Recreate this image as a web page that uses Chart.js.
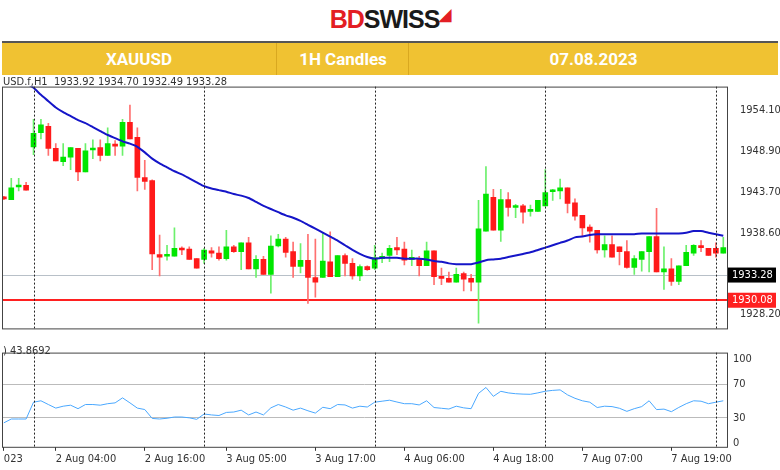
<!DOCTYPE html>
<html><head><meta charset="utf-8">
<script src="https://cdn.jsdelivr.net/npm/chart.js@4/dist/chart.umd.min.js"></script>
<style>
body{margin:0;width:780px;height:470px;background:#fff;position:relative;overflow:hidden;font-family:"Liberation Sans",Arial,sans-serif}
#logo{position:absolute;top:5px;left:0;width:780px;text-align:center;font-weight:bold;font-size:25px;letter-spacing:-1px}
#bar{position:absolute;left:2px;top:41px;width:776px;height:34px;background:#F0C232;border-top:2px solid #555;box-sizing:border-box}
.h{position:absolute;top:6px;color:#fff;font-weight:bold;font-size:17px;text-align:center;font-family:Roboto,"Liberation Sans",sans-serif}
.div{position:absolute;top:0;width:1px;height:32px;background:#d9a820}
#c1{position:absolute;left:0;top:75px}
#c2{position:absolute;left:0;top:340px}
.lab{position:absolute;font-size:11px;color:#333;font-family:"DejaVu Sans Condensed","Liberation Sans",sans-serif}
</style></head><body>
<div id="logo"><span style="color:#E31E24">BD</span><span style="color:#1a1a1a">SWISS</span><span style="color:#E31E24;font-size:16px;vertical-align:top">&#9698;</span></div>
<div id="bar">
<div class="h" style="left:0;width:274px">XAUUSD</div>
<div class="div" style="left:274px"></div>
<div class="h" style="left:275px;width:132px">1H Candles</div>
<div class="div" style="left:406px"></div>
<div class="h" style="left:407px;width:369px">07.08.2023</div>
</div>
<canvas id="c1" width="780" height="265"></canvas>
<canvas id="c2" width="780" height="128"></canvas>
<div class="lab" style="left:3px;top:75px">USD.f,H1&nbsp; 1933.92 1934.70 1932.49 1933.28</div>
<div class="lab" style="left:3px;top:344px">) 43.8692</div>
<script>
const opens=[1943.1,1942.8,1944.4,1944.6,1949.5,1951.3,1952.1,1949.3,1947.6,1948.2,1949.3,1946.3,1949.1,1949.4,1948.4,1949.8,1949.6,1952.6,1950.7,1945.6,1945.2,1935.8,1935.6,1935.6,1936.6,1936.5,1935.3,1935.2,1936.3,1936.0,1935.3,1936.8,1936.2,1937.3,1934.0,1935.2,1933.3,1936.9,1937.8,1936.2,1934.3,1935.1,1932.9,1932.9,1934.9,1933.0,1935.7,1934.7,1933.1,1934.3,1934.1,1935.3,1935.7,1936.7,1936.5,1935.2,1935.3,1934.4,1936.3,1932.9,1932.8,1932.3,1933.4,1932.8,1932.3,1938.8,1943.1,1938.9,1942.8,1941.8,1942.0,1941.3,1941.3,1942.0,1943.8,1943.9,1944.3,1942.4,1940.8,1939.3,1938.9,1936.4,1937.1,1936.8,1936.2,1934.2,1935.2,1936.2,1938.1,1933.6,1934.0,1932.4,1934.4,1936.0,1936.9,1936.6,1936.6,1936.0];
const highs=[1943.2,1945.5,1945.5,1945.0,1953.0,1953.0,1952.5,1949.9,1949.9,1949.4,1949.3,1949.9,1950.4,1950.4,1951.9,1950.3,1953.0,1954.8,1951.9,1947.8,1945.3,1938.3,1937.0,1939.2,1936.8,1936.8,1935.3,1936.6,1936.7,1936.8,1938.9,1937.0,1937.3,1938.0,1935.7,1935.6,1938.2,1938.4,1938.0,1937.4,1937.2,1938.4,1937.8,1938.6,1938.7,1935.7,1935.9,1935.3,1934.5,1934.4,1937.0,1936.0,1937.0,1938.0,1937.4,1936.4,1935.6,1937.4,1936.3,1934.1,1933.6,1934.1,1933.6,1933.3,1942.7,1947.0,1944.1,1944.1,1943.7,1942.2,1942.2,1942.1,1942.7,1946.6,1944.1,1945.4,1944.3,1942.9,1940.8,1939.6,1938.9,1938.2,1938.2,1936.8,1937.6,1935.7,1936.2,1938.1,1941.7,1936.8,1935.3,1934.4,1937.0,1937.1,1937.6,1936.6,1937.3,1938.0];
const lows=[1942.8,1942.8,1943.9,1944.0,1948.5,1950.5,1948.4,1947.7,1947.1,1946.6,1945.2,1946.3,1948.0,1947.7,1948.4,1948.4,1948.4,1950.5,1943.9,1944.1,1933.9,1933.1,1935.1,1935.6,1935.8,1935.2,1934.1,1934.7,1935.5,1935.1,1935.1,1936.1,1933.9,1934.0,1932.9,1933.3,1930.9,1936.8,1935.5,1932.9,1933.5,1929.6,1930.4,1932.9,1933.0,1933.0,1933.1,1932.7,1932.5,1933.8,1933.9,1934.8,1934.9,1935.8,1934.5,1934.4,1933.1,1934.4,1932.0,1932.0,1932.3,1932.3,1931.2,1931.2,1927.1,1938.8,1938.9,1937.5,1940.7,1940.5,1939.8,1940.7,1941.3,1942.0,1942.7,1942.9,1941.1,1940.2,1938.2,1937.4,1936.0,1935.5,1935.5,1934.5,1934.1,1933.3,1933.7,1933.6,1933.6,1931.4,1931.9,1932.0,1934.4,1935.7,1936.2,1935.7,1935.5,1936.0];
const closes=[1942.9,1944.3,1944.5,1944.0,1951.2,1952.3,1949.3,1947.7,1948.2,1949.4,1946.3,1949.0,1949.2,1948.4,1949.9,1949.6,1952.6,1950.5,1945.6,1945.1,1935.9,1935.5,1935.7,1936.6,1936.4,1935.2,1934.1,1936.4,1936.0,1935.3,1936.8,1936.2,1937.3,1934.0,1935.2,1933.3,1936.9,1937.8,1936.1,1934.3,1935.1,1932.9,1932.3,1935.0,1933.0,1935.7,1934.7,1933.1,1934.3,1933.9,1935.4,1935.6,1936.6,1936.4,1935.1,1935.3,1934.4,1936.3,1933.0,1932.8,1932.3,1933.3,1932.7,1932.3,1939.1,1943.5,1938.9,1942.8,1941.8,1942.0,1941.2,1941.4,1942.7,1943.7,1943.9,1944.3,1942.3,1940.7,1939.2,1938.8,1936.4,1937.1,1935.5,1936.2,1934.2,1935.3,1936.2,1938.1,1933.6,1934.0,1932.4,1934.4,1936.1,1937.0,1936.7,1935.7,1936.0,1936.7];
const maValues=[null,null,null,1957.6,1957.0,1956.1,1955.3,1954.5,1953.9,1953.4,1952.9,1952.5,1952.0,1951.5,1951.0,1950.6,1950.2,1949.9,1949.5,1948.8,1948.0,1947.4,1946.9,1946.4,1946.0,1945.5,1945.0,1944.5,1944.2,1944.0,1943.8,1943.5,1943.3,1943.0,1942.5,1942.0,1941.6,1941.2,1940.8,1940.5,1940.1,1939.6,1939.1,1938.6,1938.1,1937.6,1937.0,1936.4,1935.9,1935.5,1935.3,1935.4,1935.4,1935.4,1935.3,1935.3,1935.3,1935.2,1935.0,1934.9,1934.7,1934.6,1934.6,1934.6,1934.8,1935.1,1935.2,1935.3,1935.5,1935.7,1935.9,1936.1,1936.4,1936.7,1937.0,1937.3,1937.6,1938.0,1938.1,1938.3,1938.4,1938.4,1938.4,1938.4,1938.4,1938.4,1938.5,1938.5,1938.5,1938.5,1938.5,1938.5,1938.6,1938.8,1938.8,1938.6,1938.4,1938.2];
const rsiValues=[24,28.6,28.6,28.6,48.8,50.5,46,41.7,44,45.2,41,46,46,45.2,47,48,54,48,41.7,40,29.3,28.6,29.5,31,31,30,28.2,34.6,33.5,32.8,36.5,37,39.2,33.5,37,33.5,42,46,43,39.2,41.7,38.5,35.7,42.7,41,46,45.5,41.7,44,43,48.8,50,51.2,49,47,47,45.5,50.5,42.4,41.5,40.6,44,42,41,59.4,66.5,55.8,61.9,60,59,58.5,58.3,60,62,63,63.6,57.6,53.5,50.5,48.8,42.4,44,43.5,41.5,37.8,41,43.5,50.5,39.9,40.5,37.4,42.5,47,50.5,50,47,48.8,50.5];
const priceTicks=[1954.10,1948.90,1943.70,1938.60,1928.20];
const rsiTicks=[0,30,70,100];
const timeTickIdx=[0,7,19,30,42,54,66,78,90];
const timeTickLabels=["023","2 Aug 04:00","2 Aug 16:00","3 Aug 05:00","3 Aug 17:00","4 Aug 06:00","4 Aug 18:00","7 Aug 07:00","7 Aug 19:00"];
const separatorIdx=[4,27,50,73,96];
const lastPrice=1933.28, redLevel=1930.08;

const GREEN='#00E600',RED='#FF1A1A';
const cols=opens.map((o,i)=>closes[i]>=o?GREEN:RED);
const wickCols=opens.map((o,i)=>closes[i]>=o?'#6CF06C':'#FF7070');
const XMIN=-0.25,XMAX=97.5;
const FONT={size:11,family:'"DejaVu Sans Condensed",sans-serif'};
const sepPlugin={id:'sep',afterDatasetsDraw(ch){const c=ch.ctx,a=ch.chartArea,x=ch.scales.x;c.save();c.strokeStyle='#222';c.lineWidth=1;c.setLineDash([2,2]);
separatorIdx.forEach(i=>{const p=Math.round(x.getPixelForValue(i))+0.5;c.beginPath();c.moveTo(p,a.top);c.lineTo(p,a.bottom);c.stroke();});
c.setLineDash([]);c.strokeStyle='#444';c.strokeRect(a.left+0.5,a.top+0.5,a.right-a.left,a.bottom-a.top);c.restore();}};
const levelPlugin={id:'lvl',beforeDatasetsDraw(ch){const c=ch.ctx,a=ch.chartArea,y=ch.scales.y;c.save();
let p=Math.round(y.getPixelForValue(lastPrice))+0.5;c.strokeStyle='#b8c0c8';c.lineWidth=1;c.beginPath();c.moveTo(a.left,p);c.lineTo(a.right,p);c.stroke();
p=Math.round(y.getPixelForValue(redLevel));c.strokeStyle='#FF2020';c.lineWidth=2;c.beginPath();c.moveTo(a.left,p);c.lineTo(a.right,p);c.stroke();c.restore();},
afterDraw(ch){const c=ch.ctx,a=ch.chartArea,y=ch.scales.y;c.save();c.font='11px "DejaVu Sans Condensed",sans-serif';c.textBaseline='middle';
let p=y.getPixelForValue(lastPrice);c.fillStyle='#000';c.fillRect(a.right+1,p-7,48,15);c.fillStyle='#fff';c.fillText(lastPrice.toFixed(2),a.right+5,p+0.5);
p=y.getPixelForValue(redLevel);c.fillStyle='#FF2020';c.fillRect(a.right+1,p-7,48,15);c.fillStyle='#fff';c.fillText(redLevel.toFixed(2),a.right+5,p+0.5);c.restore();}};

const idx=opens.map((_,i)=>i);
new Chart(document.getElementById('c1'),{
 data:{datasets:[
  {type:'bar',data:idx.map(i=>({x:i,y:[lows[i],highs[i]]})),backgroundColor:wickCols,barThickness:1,grouped:false,order:3},
  {type:'bar',data:idx.map(i=>({x:i,y:[opens[i],closes[i]]})),backgroundColor:cols,barThickness:5,minBarLength:2,grouped:false,order:2},
  {type:'line',data:idx.map(i=>({x:i,y:maValues[i]})),borderColor:'#1515C8',borderWidth:2,pointRadius:0,tension:0.2,order:1}
 ]},
 options:{responsive:false,animation:false,events:[],layout:{padding:{left:2,top:0,bottom:3,right:0}},
  plugins:{legend:{display:false},tooltip:{enabled:false}},
  scales:{x:{type:'linear',min:XMIN,max:XMAX,offset:false,display:false},
   y:{position:'right',min:1926.44,max:1957.15,afterFit(s){s.width=53;},
    afterBuildTicks(s){s.ticks=priceTicks.map(v=>({value:v}));},
    grid:{display:false},border:{display:false},
    ticks:{color:'#333',font:FONT,padding:5,callback:v=>Number(v).toFixed(2)}}}},
 plugins:[sepPlugin,levelPlugin]});

new Chart(document.getElementById('c2'),{
 type:'line',
 data:{datasets:[{data:idx.map(i=>({x:i,y:rsiValues[i]})),borderColor:'#4AA8FF',borderWidth:1,pointRadius:0}]},
 options:{responsive:false,animation:false,events:[],layout:{padding:{left:2,top:1,bottom:0,right:0}},
  plugins:{legend:{display:false},tooltip:{enabled:false}},
  scales:{x:{type:'linear',min:XMIN,max:XMAX,offset:false,
    afterBuildTicks(s){s.ticks=timeTickIdx.map(v=>({value:v}));},
    grid:{drawOnChartArea:false,tickLength:4,color:'#333'},border:{display:false},
    ticks:{align:'start',maxRotation:0,autoSkip:false,color:'#333',padding:2,font:FONT,
     callback:(v)=>{const k=timeTickIdx.indexOf(v);return k>=0?timeTickLabels[k]:'';}}},
   y:{position:'right',min:-4.8,max:108.4,afterFit(s){s.width=53;},
    afterBuildTicks(s){s.ticks=rsiTicks.map(v=>({value:v}));},
    grid:{color:c=>(c.tick&&(c.tick.value===30||c.tick.value===70))?'#bbb':'rgba(0,0,0,0)',borderDash:[3,3],drawTicks:false},border:{display:false},
    ticks:{color:'#333',padding:6,font:FONT}}}},
 plugins:[sepPlugin]});
</script>
</body></html>
